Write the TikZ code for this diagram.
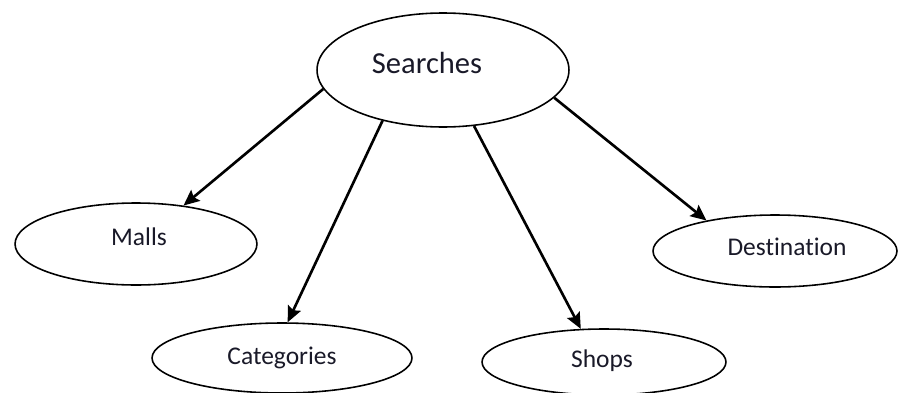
\documentclass[tikz,border=0pt]{standalone}
\usepackage{fontspec}
\setmainfont[Ligatures=NoCommon]{Carlito}
\usetikzlibrary{arrows.meta, shapes.geometric}
\definecolor{ink}{RGB}{25, 25, 40}

\tikzset{
  oval/.style={draw=black, ellipse, line width=0.9pt, inner sep=0pt},
  lbl/.style={text=ink, font=\fontsize{14.5}{16}\selectfont, inner sep=0pt},
  link/.style={-{Stealth[length=9pt,width=8pt,inset=1.5pt]}, line width=1.5pt}
}

\begin{document}
\begin{tikzpicture}[x=0.02cm, y=-0.02cm]
        \useasboundingbox (0,0) rectangle (898,392);
        % ovals
        \node[oval, minimum width=5.04cm, minimum height=2.28cm] (srch) at (443,70) {};
        \node[oval, minimum width=4.84cm, minimum height=1.64cm] (malls) at (136,244) {};
        \node[oval, minimum width=5.2cm, minimum height=1.4cm] (cats) at (282,358) {};
        \node[oval, minimum width=4.88cm, minimum height=1.32cm] (shops) at (604,362) {};
        \node[oval, minimum width=4.88cm, minimum height=1.44cm] (dest) at (775,251) {};
        % texts
        \node[lbl, font=\fontsize{17.4}{19}\selectfont] (srchtxt) at (427,63) {Searches};
        \node[lbl] (mallstxt) at (139,237) {Malls};
        \node[lbl] (catstxt) at (282,358) {Categories};
        \node[lbl] (shopstxt) at (602,361) {Shops};
        \node[lbl] (desttxt) at (787,247) {Destination};
        % arrows
        \draw[link] (srch.189) -- (malls.39);
        \draw[link] (srch.220) -- (cats.81);
        \draw[link] (srch.299) -- (shops.125);
        \draw[link] (srch.346) -- (dest.156);
\end{tikzpicture}
\end{document}
